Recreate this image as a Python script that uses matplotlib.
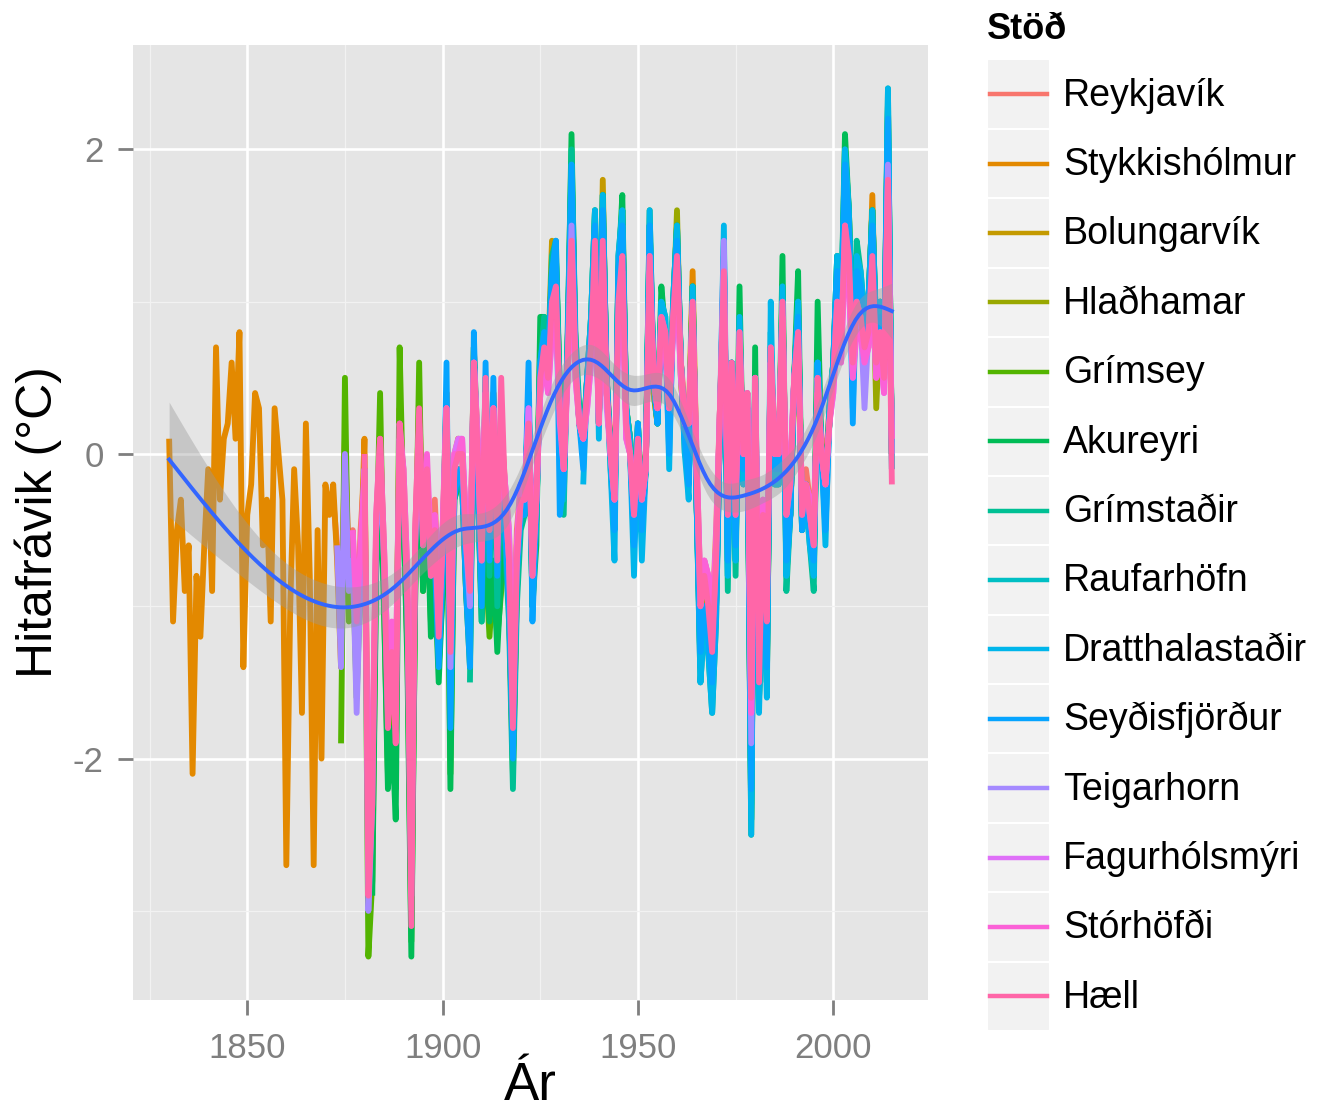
import numpy as np
import matplotlib
matplotlib.use("Agg")
import matplotlib.pyplot as plt
from matplotlib.lines import Line2D
from matplotlib.patches import Rectangle
from matplotlib.legend_handler import HandlerBase

plt.rcParams['font.family'] = ['Liberation Sans', 'DejaVu Sans']
plt.rcParams['axes.unicode_minus'] = False

# ---------------- data (annual temperature anomalies, tenths of a degree C) ----------------
station_names = ["Reykjavík", "Stykkishólmur", "Bolungarvík", "Hlaðhamar", "Grímsey",
                 "Akureyri", "Grímstaðir", "Raufarhöfn", "Dratthalastaðir", "Seyðisfjörður",
                 "Teigarhorn", "Fagurhólsmýri", "Stórhöfði", "Hæll"]
station_colors = ["#F8766D", "#E38900", "#C49A00", "#99A800", "#53B400", "#00BC56", "#00C094",
                  "#00BFC4", "#00B6EB", "#06A4FF", "#A58AFF", "#DF70F8", "#FB61D7", "#FF66A8"]
station_first_year = [1871, 1830, 1898, 1935, 1874, 1882, 1907, 1921, 1936, 1898, 1873, 1898, 1877, 1880]
last_year = 2015

reykjavik = [
    -3, -3, -6, -13, 1, -7, -5, -12, -5, -1,
    -24, -21, -5, 1, -6, -14, -12, -15, 1, -1,
    -8, -24, -5, 3, -4, -1, -7, -3, -9, -5,
    4, -12, 0, 1, 0, -4, -8, 6, 1, -6,
    3, -3, 4, -4, 2, -2, -5, -15, -5, -2,
    -2, 2, -6, -2, 4, 7, 5, 8, 10, 2,
    0, 5, 13, 6, 2, 2, 4, 7, 11, 3,
    13, 5, 1, -2, 9, 11, 2, 1, -3, 1,
    -2, 0, 13, 6, 3, 8, 8, 4, 9, 12,
    6, 3, 2, 9, 0, -9, -7, -8, -11, -5,
    3, 11, -3, 5, -2, 7, 1, 4, -16, 4,
    -11, -3, -9, 6, 1, 0, 8, -2, -1, 4,
    7, -3, -1, -3, -4, 4, 1, -1, 3, 5,
    9, 7, 14, 12, 6, 9, 8, 7, 7, 12,
    6, 7, 6, 16, 1]

stykkisholmur = [
    1, -11, -5, -3, -9, -6, -21, -8, -12, -6,
    -1, -9, 7, -3, 1, 2, 6, 1, 8, -14,
    -4, -2, 4, 3, -6, -3, -11, 3, 0, -3,
    -27, -10, -1, -6, -17, 2, -8, -27, -5, -20,
    -2,
    -4, -2, -7, -14, 1, -9, -7, -12, -7, 1,
    -27, -23, -6, 0, -8, -16, -13, -17, 3, -2,
    -10, -27, -6, 2, -6, -2, -8, -6, -12, -6,
    4, -14, -1, 1, 0, -6, -10, 7, 0, -7,
    5, -5, 4, -6, 2, -3, -7, -17, -6, -3,
    -3, 3, -8, -3, 5, 7, 6, 11, 11, 3,
    -1, 6, 16, 6, 2, 1, 4, 7, 13, 2,
    15, 4, 0, -3, 10, 13, 2, 0, -4, 1,
    -3, -1, 14, 5, 3, 9, 8, 3, 9, 13,
    6, 2, 2, 12, -1, -11, -8, -10, -13, -7,
    3, 12, -4, 6, -4, 8, 0, 4, -20, 5,
    -13, -4, -11, 7, 0, 0, 10, -4, -2, 5,
    8, -4, -2, -4, -6, 5, 0, -2, 2, 5,
    10, 7, 16, 13, 6, 10, 9, 7, 8, 17,
    6, 8, 5, 19, 0]

bolungarvik = [
    -7, -13, -8,
    2, -18, -2, -1, -1, -8, -12, 6, -1, -9,
    3, -7, 2, -8, 0, -5, -9, -20, -8, -4,
    -3, 3, -9, -3, 5, 8, 6, 14, 12, 3,
    -1, 7, 18, 7, 2, 1, 4, 8, 14, 2,
    18, 4, 0, -3, 11, 14, 2, 0, -4, 1,
    -3, -1, 14, 4, 2, 9, 8, 2, 9, 13,
    5, 1, 1, 10, -2, -12, -9, -11, -14, -9,
    2, 12, -6, 5, -6, 8, -1, 3, -22, 4,
    -14, -6, -13, 6, -1, -1, 10, -6, -3, 4,
    9, -4, -2, -4, -7, 5, 0, -2, 2, 5,
    11, 8, 17, 14, 7, 11, 10, 8, 9, 14,
    7, 9, 6, 20, 0]

hladhamar = [
    2, 1, 4, 8, 14, 2,
    15, 4, 0, -4, 11, 14, 2, 0, -5, 1,
    -4, -1, 14, 4, 2, 9, 8, 2, 9, 16,
    5, 1, 1, 10, -3, -12, -9, -11, -14, -9,
    2, 12, -6, 5, -6, 8, -1, 3, -21, 4,
    -14, -6, -13, 7, -1, -1, 10, -6, -4, 4,
    9, -4, -2, -5, -7, 6, 0, -2, 2, 6,
    11, 8, 18, 14, 6, 11, 10, 8, 9, 14,
    3, 9, 6, 20, 0]

grimsey = [
    -19, 5, -11, -7, -16, -8, -1,
    -33, -28, -7, 4, -10, -21, -17, -22, 7, -4,
    -13, -32, -9, 6, -9, -3, -11, -8, -14, -9,
    3, -21, -3, -2, -2, -9, -13, 7, -2, -10,
    -7, -12, -8, -12, -9, -5, -10, -21, -9, -4,
    -4, 4, -10, -4, 7, 8, 6, 12, 13, 4,
    -1, 7, 19, 7, 2, 1, 5, 8, 15, 2,
    16, 5, 0, -4, 12, 16, 3, 1, -5, 2,
    -4, -1, 15, 5, 2, 10, 8, 2, 9, 14,
    6, 1, 1, 11, -3, -13, -10, -12, -16, -10,
    2, 13, -6, 6, -6, 8, -1, 3, -24, 5,
    -16, -6, -15, 7, -1, -1, 11, -6, -4, 5,
    10, -5, -2, -5, -7, 6, 0, -2, 2, 6,
    12, 8, 19, 16, 7, 12, 11, 8, 10, 16,
    7, 10, 6, 23, 0]

akureyri = [
    -29, -8, -1, -10, -22, -18, -24, 2, -4,
    -14, -33, -9, 1, -9, -3, -12, -8, -15, -9,
    2, -22, -3, -2, -2, -9, -14, 7, -2, -11,
    -6, -11, -7, -13, -8, -5, -10, -20, -9, -4,
    -4, 4, -10, -6, 9, 9, 6, 12, 13, 4,
    -2, 7, 21, 7, 2, 1, 5, 9, 16, 2,
    17, 5, 0, -4, 12, 17, 3, 1, -5, 2,
    -4, -1, 16, 5, 2, 11, 8, 2, 10, 15,
    6, 1, 1, 11, -3, -14, -10, -12, -16, -10,
    2, 13, -7, 6, -7, 11, -2, 3, -25, 7,
    -16, -7, -15, 7, -2, -2, 13, -7, -4, 5,
    12, -5, -3, -5, -8, 10, 0, -3, 3, 6,
    13, 9, 21, 16, 7, 13, 11, 9, 10, 16,
    8, 10, 6, 23, 0]

grimsstadir = [
    -15, 6, -2, -11,
    3, -8, 2, -10, -1, -6, -11, -22, -10, -5,
    -4, 4, -10, -4, 6, 9, 6, 13, 14, 4,
    -4, 8, 20, 8, 3, 1, 5, 9, 16, 3,
    17, 5, -1, -5, 13, 16, 3, 1, -6, 2,
    -5, -1, 15, 5, 2, 10, 9, 1, 10, 15,
    6, 0, -1, 11, -3, -15, -11, -13, -17, -11,
    2, 14, -9, 6, -8, 9, -2, 3, -24, 5,
    -16, -7, -14, 8, -2, -2, 11, -9, -4, 5,
    10, -5, -3, -6, -9, 6, 0, -4, 3, 6,
    13, 9, 20, 16, 7, 14, 12, 9, 10, 16,
    8, 10, 6, 24, -1]

raufarhofn = [
    -3, 4, -9, -4, 6, 8, 6, 12, 13, 3,
    -3, 7, 19, 7, 2, 0, 5, 8, 15, 2,
    16, 5, 0, -4, 12, 15, 3, 1, -5, 2,
    -4, -1, 15, 5, 2, 9, 8, 2, 9, 14,
    6, 1, 0, 10, -3, -14, -10, -12, -16, -10,
    2, 13, -8, 6, -7, 8, -1, 3, -23, 5,
    -15, -6, -14, 7, -1, -1, 10, -8, -4, 5,
    9, -5, -2, -5, -8, 6, 0, -3, 2, 6,
    12, 8, 19, 15, 7, 12, 11, 8, 9, 15,
    7, 9, 6, 22, 0]

dratthalastadir = [
    -2, 5, 9, 16, 1,
    17, 5, -1, -7, 13, 16, 3, 0, -8, 2,
    -7, -1, 16, 5, 2, 10, 9, -1, 10, 15,
    6, 0, -3, 11, -3, -15, -11, -13, -17, -11,
    2, 15, -8, 6, -7, 9, -2, 3, -25, 5,
    -17, -7, -16, 10, -2, -2, 11, -8, -4, 5,
    10, -5, -3, -6, -8, 6, 0, -6, 3, 6,
    13, 9, 20, 16, 3, 13, 12, 9, 10, 16,
    8, 10, 6, 24, -1]

seydisfjordur = [
    -7, -14, -8,
    6, -18, -3, -1, -2, -9, -14, 8, -2, -10,
    6, -7, 5, -8, 0, -5, -10, -20, -8, -4,
    -4, 6, -11, -4, 6, 8, 6, 12, 14, -4,
    -2, 7, 19, 7, 2, -1, 5, 8, 15, 2,
    16, 5, 0, -5, 12, 15, 3, 0, -6, 2,
    -5, -1, 15, 5, 2, 9, 8, 0, 9, 14,
    6, 1, -2, 10, -3, -13, -10, -12, -15, -10,
    2, 13, -7, 6, -6, 8, -1, 3, -22, 5,
    -15, -6, -14, 7, -1, -1, 10, -7, -4, 5,
    9, -5, -2, -5, -7, 6, 0, -5, 2, 6,
    12, 8, 19, 15, 2, 12, 11, 8, 9, 15,
    7, 9, 6, 22, 0]

teigarhorn = [
    -6, -14, 0, -9, -7, -17, -8, -1,
    -30, -23, -5, -1, -7, -17, -13, -17, 1, -2,
    -10, -29, -6, 1, -6, -1, -8, -5, -11, -6,
    3, -14, -1, 0, 0, -6, -10, 6, 0, -7,
    4, -5, 3, -6, 1, -3, -7, -17, -7, -3,
    -3, 3, -8, -3, 4, 6, 5, 9, 10, 3,
    -1, 6, 15, 6, 2, 1, 4, 7, 12, 2,
    13, 4, 0, -3, 9, 12, 2, 0, -4, 1,
    -3, -1, 13, 5, 3, 9, 8, 3, 9, 12,
    6, 2, 2, 10, -1, -10, -8, -9, -12, -7,
    3, 14, -4, 6, -4, 8, 0, 4, -19, 5,
    -12, -4, -10, 7, 0, 0, 10, -4, -2, 5,
    8, -4, -2, -4, -6, 5, 0, -2, 2, 5,
    10, 7, 15, 12, 6, 10, 9, 3, 8, 12,
    6, 8, 5, 19, 0]

fagurholsmyri = [
    -4, -9, -5,
    3, -12, 0, 1, 1, -5, -8, 6, 1, -5,
    4, -4, 3, -5, 1, -2, -5, -15, -6, -2,
    -3, 3, -7, -3, 4, 6, 4, 8, 9, 3,
    -1, 5, 13, 5, 2, 1, 3, 6, 11, 2,
    12, 3, 0, -3, 8, 11, 1, 0, -3, 0,
    -3, -1, 12, 5, 3, 8, 7, 3, 8, 11,
    5, 2, 2, 9, -1, -9, -7, -8, -11, -6,
    3, 10, -3, 5, -3, 7, 0, 4, -17, 5,
    -11, -3, -9, 6, 0, 0, 9, -3, -1, 5,
    7, -3, -2, -3, -5, 4, 0, -2, 2, 4,
    9, 6, 14, 11, 5, 9, 8, 6, 7, 11,
    5, 7, 4, 18, 1]

storhofdi = [
    -5, -11, -6, -1,
    -24, -20, -4, 1, -6, -14, -11, -15, 2, -1,
    -8, -26, -5, 2, -5, 0, -6, -4, -9, -5,
    3, -12, 0, 0, 1, -5, -8, 6, 0, -5,
    4, -4, 3, -5, 1, -2, -6, -15, -6, -2,
    -2, 2, -7, -2, 4, 6, 4, 8, 9, 2,
    -1, 5, 13, 5, 2, 1, 3, 6, 11, 2,
    12, 4, 0, -2, 8, 11, 1, 0, -3, 0,
    -2, -1, 12, 5, 3, 8, 7, 3, 8, 11,
    5, 2, 2, 9, 0, -9, -7, -8, -11, -6,
    3, 10, -3, 5, -3, 7, 0, 4, -17, 5,
    -11, -3, -9, 6, 0, 0, 9, -3, -1, 5,
    7, -3, -2, -3, -5, 4, 0, -2, 2, 4,
    8, 6, 13, 11, 5, 8, 8, 6, 7, 11,
    5, 7, 4, 16, 1]

haell = [
    0,
    -29, -23, -4, 1, -7, -18, -13, -19, 2, -2,
    -10, -31, -5, 3, -6, -1, -8, -5, -12, -6,
    3, -13, -1, 0, 0, -6, -9, 6, 0, -7,
    5, -5, 3, -7, 5, -3, -7, -18, -7, -3,
    -3, 2, -8, -3, 5, 7, 5, 10, 11, 3,
    -1, 6, 14, 6, 2, 1, 4, 7, 14, 2,
    14, 4, 0, -3, 10, 13, 2, 0, -4, 1,
    -3, -1, 13, 5, 3, 9, 8, 3, 9, 13,
    6, 2, 2, 10, -1, -10, -8, -10, -13, -7,
    3, 12, -4, 6, -4, 8, 0, 4, -16, 5,
    -15, -4, -11, 7, 0, 0, 10, -4, -2, 5,
    8, -4, -2, -4, -6, 5, 0, -2, 2, 5,
    10, 7, 15, 13, 6, 10, 9, 7, 8, 13,
    6, 8, 5, 18, -2]

station_values = [reykjavik, stykkisholmur, bolungarvik, hladhamar, grimsey, akureyri,
                  grimsstadir, raufarhofn, dratthalastadir, seydisfjordur, teigarhorn,
                  fagurholsmyri, storhofdi, haell]

x_ticks = [1850, 1900, 1950, 2000]
y_ticks = [-2, 0, 2]

# ---------------- assemble series ----------------
series = []
for name, first, vals in zip(station_names, station_first_year, station_values):
    yrs = np.arange(first, first + len(vals))
    assert yrs[-1] == last_year, (name, len(vals))
    series.append((yrs, np.array(vals, dtype=float) / 10.0))

all_x = np.concatenate([s[0] for s in series]).astype(float)
all_y = np.concatenate([s[1] for s in series])

# ---------------- smooth: penalised cubic regression spline (~10.5 effective df), 95% band ----------------
x0, x1 = all_x.min(), all_x.max()
knots = (np.quantile(all_x, np.linspace(0, 1, 14)) - x0) / (x1 - x0)


def ns_basis(t):
    def d(k):
        return (np.clip(t - knots[k], 0, None) ** 3 - np.clip(t - knots[-1], 0, None) ** 3) / (knots[-1] - knots[k])
    cols = [np.ones_like(t), t]
    dlast = d(len(knots) - 2)
    for k in range(len(knots) - 2):
        cols.append(d(k) - dlast)
    return np.column_stack(cols)


X = ns_basis((all_x - x0) / (x1 - x0))
tt = np.linspace(0, 1, 2001)
D2 = np.gradient(np.gradient(ns_basis(tt), tt, axis=0), tt, axis=0)
S = D2.T @ D2 * (tt[1] - tt[0])
XtX, Xty = X.T @ X, X.T @ all_y
n = len(all_y)
target_edf = 10.5
best = None
for lam in np.logspace(-10, 0, 161):
    A = XtX + lam * S
    edf = np.trace(np.linalg.solve(A, XtX))
    if best is None or abs(edf - target_edf) < abs(best[1] - target_edf):
        best = (lam, edf)
lam, edf = best
A = XtX + lam * S
beta = np.linalg.solve(A, Xty)
rss = np.sum((all_y - X @ beta) ** 2)
sigma2 = rss / (n - edf)
cov = np.linalg.inv(A) * sigma2
grid = np.linspace(x0, x1, 200)
G = ns_basis((grid - x0) / (x1 - x0))
fit = G @ beta
se = np.sqrt(np.einsum('ij,jk,ik->i', G, cov, G))
lo, hi = fit - 1.96 * se, fit + 1.96 * se

# ---------------- figure ----------------
W, H = 1320, 1114
fig = plt.figure(figsize=(W / 100, H / 100), dpi=100)
fig.patch.set_facecolor('white')
ax = fig.add_axes([133 / W, 1 - 1000 / H, (928 - 133) / W, (1000 - 45) / H])
ax.set_facecolor('#E5E5E5')
for sp in ax.spines.values():
    sp.set_visible(False)

xr = x1 - x0
ax.set_xlim(x0 - 0.05 * xr, x1 + 0.05 * xr)
yr = all_y.max() - all_y.min()
ax.set_ylim(all_y.min() - 0.05 * yr, all_y.max() + 0.05 * yr)

ax.set_xticks(x_ticks)
ax.set_xticks([1825, 1875, 1925, 1975], minor=True)
ax.set_yticks(y_ticks)
ax.set_yticks([-3, -1, 1], minor=True)
ax.set_axisbelow(True)
ax.grid(which='major', color='white', linewidth=1.9)
ax.grid(which='minor', color='#F2F2F2', linewidth=0.9)
ax.tick_params(which='major', length=11, width=2, color='#7F7F7F', labelcolor='#7F7F7F',
               labelsize=25)
ax.tick_params(axis='x', which='major', pad=12)
ax.tick_params(axis='y', which='major', pad=10)
ax.tick_params(which='minor', length=0)

for (yrs, vals), col in zip(series, station_colors):
    ax.plot(yrs, vals, color=col, linewidth=4.2, solid_joinstyle='round', solid_capstyle='butt', zorder=2)

ax.fill_between(grid, lo, hi, color='#999999', alpha=0.4, linewidth=0, zorder=3)
ax.plot(grid, fit, color='#3366FF', linewidth=2.8, zorder=4)

ax.set_xlabel('Ár', fontsize=38)
ax.set_ylabel('Hitafrávik (°C)', fontsize=36)
ax.xaxis.set_label_coords(0.5, -0.064)
ax.yaxis.set_label_coords(-0.089, 0.5)


class KeyHandler(HandlerBase):
    def create_artists(self, legend, orig_handle, xdescent, ydescent, width, height, fontsize, trans):
        bg = Rectangle((-xdescent, -ydescent), width, height, facecolor='#F2F2F2',
                       edgecolor='white', linewidth=1.5, transform=trans)
        yc = -ydescent + height / 2
        ln = Line2D([-xdescent + 0.04 * width, -xdescent + 0.96 * width], [yc, yc],
                    color=orig_handle.get_color(), linewidth=3.2, transform=trans)
        return [bg, ln]


handles = [Line2D([], [], color=c) for c in station_colors]
fs = 27
px = fs * 100 / 72
row = 69.4
hh = (row - 0.245 * px) / (0.65 * px)
leg = fig.legend(handles, station_names, loc='upper left',
                 bbox_to_anchor=(987 / W, 1 - 12 / H), frameon=False, fontsize=fs,
                 title='Stöð', title_fontproperties={'weight': 'bold', 'size': 26},
                 handler_map={Line2D: KeyHandler()}, handlelength=63 / px,
                 handleheight=hh, labelspacing=0, handletextpad=13 / px,
                 borderpad=0, borderaxespad=0, alignment='left')
leg._legend_box.sep = 9

fig.savefig('out.png', dpi=100)
